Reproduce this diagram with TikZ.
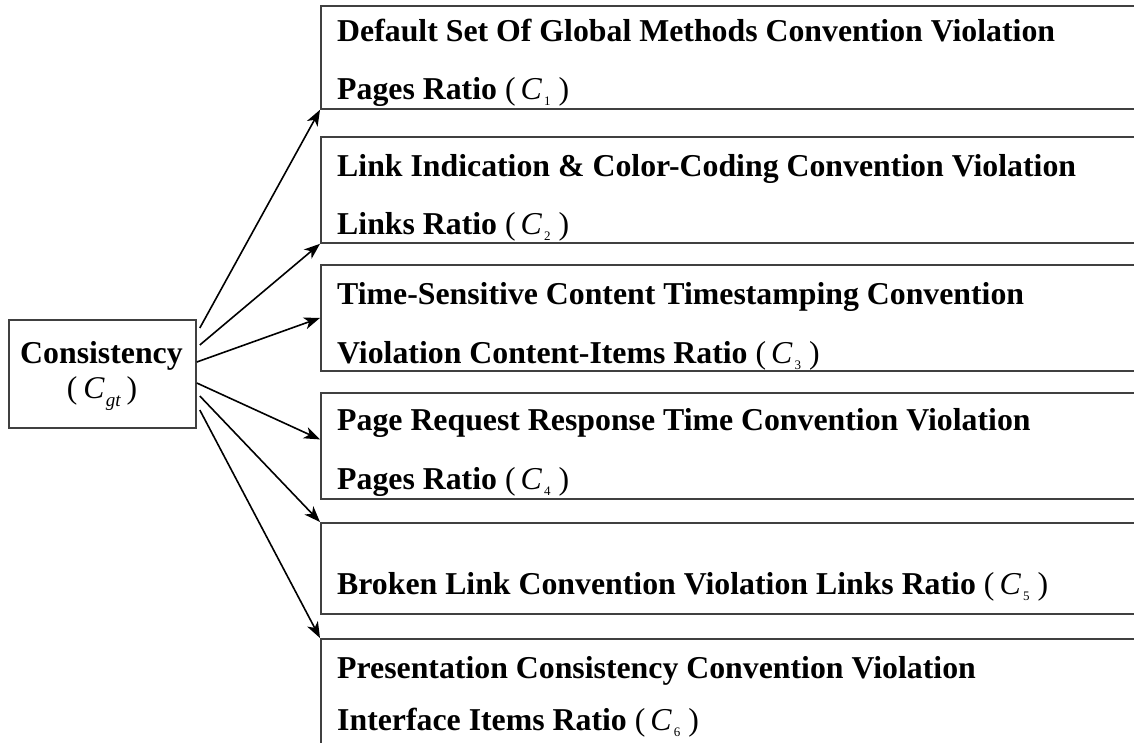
\documentclass[tikz,border=0pt]{standalone}
\usepackage{fontspec}
\setmainfont{Liberation Serif}
\usetikzlibrary{arrows.meta,calc}
\newcommand\CSub[1]{\textnormal{(\hspace{5pt}\textit{C}\hspace{2pt}\raisebox{-6.5pt}{\fontsize{13}{13}\selectfont #1}\hspace{8pt})}}
\begin{document}
\begin{tikzpicture}[x=1pt,y=-1pt,
  frame/.style={draw=black!75,line width=1.8pt,inner sep=0pt},
  box/.style={frame,anchor=north west,minimum width=830pt},
  lbl/.style={anchor=base west,inner sep=0pt,font=\bfseries\fontsize{31.8}{31.8}\selectfont},
  arr/.style={-{Stealth[length=16pt,width=12pt,inset=4.5pt]},line width=1.6pt}]
\useasboundingbox (0,0) rectangle (1134,742);
% left box
\node[frame,minimum width=187pt,minimum height=108pt,anchor=north west] (c) at (8,319) {};
\node[lbl,anchor=base] (ct1) at (101.5,363) {Consistency};
\node[anchor=base,inner sep=0pt,font=\fontsize{31.6}{31.6}\selectfont] (ct2) at (102,398) {(\hspace{6pt}\textit{C}\hspace{1pt}\raisebox{-8pt}{\fontsize{19}{19}\selectfont\itshape gt}\hspace{6pt})};
% right boxes
\node[box,minimum height=103pt] (b1) at (320,5) {};
\node[box,minimum height=106pt] (b2) at (320,136) {};
\node[box,minimum height=106pt] (b3) at (320,264) {};
\node[box,minimum height=106pt] (b4) at (320,392) {};
\node[box,minimum height=91pt] (b5) at (320,522) {};
\node[box,minimum height=130pt] (b6) at (320,638) {};
% texts
\node[lbl] (t1a) at (337,41) {Default Set Of Global Methods Convention Violation};
\node[lbl] (t1b) at (337,99) {Pages Ratio \CSub{1}};
\node[lbl] (t2a) at (337,176) {Link Indication \& Color-Coding Convention Violation};
\node[lbl] (t2b) at (337,234) {Links Ratio \CSub{2}};
\node[lbl] (t3a) at (337,304) {Time-Sensitive Content Timestamping Convention};
\node[lbl] (t3b) at (337,363) {Violation Content-Items Ratio \CSub{3}};
\node[lbl] (t4a) at (337,430) {Page Request Response Time Convention Violation};
\node[lbl] (t4b) at (337,489) {Pages Ratio \CSub{4}};
\node[lbl] (t5a) at (337,594) {Broken Link Convention Violation Links Ratio \CSub{5}};
\node[lbl] (t6a) at (337,678) {Presentation Consistency Convention Violation};
\node[lbl] (t6b) at (337,730) {Interface Items Ratio \CSub{6}};
% arrow starts
\coordinate (s1) at ($(c.north east)+(3,9)$);
\coordinate (s2) at ($(c.north east)+(3,26)$);
\coordinate (s3) at ($(c.north east)+(0,43)$);
\coordinate (s4) at ($(c.north east)+(0,64)$);
\coordinate (s5) at ($(c.north east)+(3,77)$);
\coordinate (s6) at ($(c.north east)+(3,91)$);
\draw[arr] (s1) -- (b1.south west);
\draw[arr] (s2) -- (b2.south west);
\draw[arr] (s3) -- (b3.west);
\draw[arr] (s4) -- ($(b4.north west)!0.44!(b4.south west)$);
\draw[arr] (s5) -- (b5.north west);
\draw[arr] (s6) -- (b6.north west);
\end{tikzpicture}
\end{document}
